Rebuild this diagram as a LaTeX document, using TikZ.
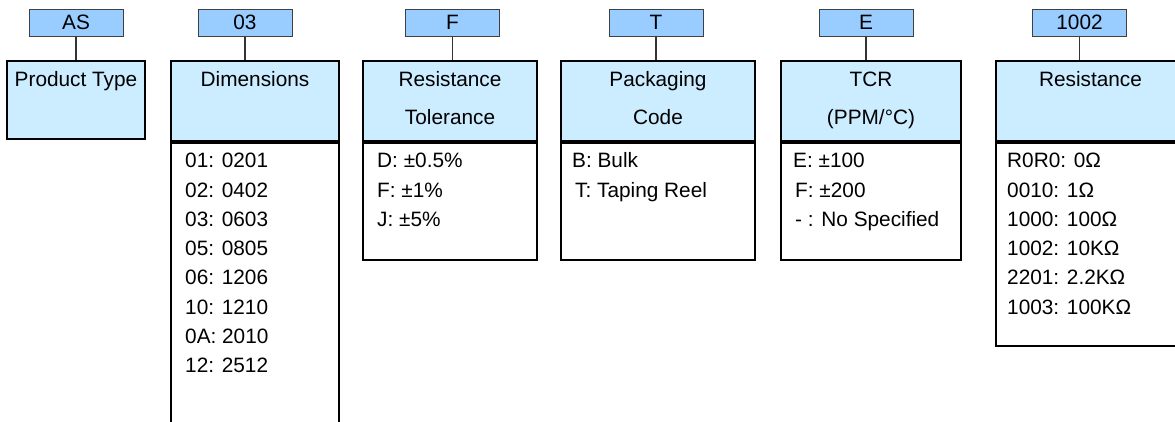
\documentclass[tikz,border=0pt]{standalone}
\usepackage{fontspec}
\setmainfont{Liberation Sans}
\usepackage{xcolor}
\usetikzlibrary{positioning}

\definecolor{codeblue}{RGB}{153,204,255}
\definecolor{headblue}{RGB}{204,236,255}

\tikzset{
  codebox/.style={draw=black!75, line width=1pt, fill=codeblue, minimum width=94pt, minimum height=27pt, inner sep=0pt, font=\fontsize{20.8}{24}\selectfont},
  headbox/.style={draw=black, line width=2pt, fill=headblue, minimum height=80pt, anchor=north, inner sep=0pt},
  listbox/.style={draw=black, line width=2pt, fill=white, anchor=north, inner sep=0pt},
  headtext/.style={anchor=north, inner sep=0pt, align=center, font=\fontsize{20.8}{38}\selectfont},
  listtext/.style={anchor=north west, inner sep=0pt, align=left, font=\fontsize{20.8}{29.3}\selectfont},
  link/.style={draw=black!80, line width=1.3pt}
}
\newcommand{\tstrut}{\rule{0pt}{17pt}}

\begin{document}
\begin{tikzpicture}[x=1pt,y=-1pt]
                    \useasboundingbox (0,0) rectangle (1175,421);

                    % code letters on top
                    \node[codebox] (cAS) at (76,22.5) {AS};
                    \node[codebox] (c03) at (245,22.5) {03};
                    \node[codebox] (cF) at (452.5,22.5) {F};
                    \node[codebox] (cT) at (656,22.5) {T};
                    \node[codebox] (cE) at (866,22.5) {E};
                    \node[codebox] (c1002) at (1079.5,22.5) {1002};

                    % header boxes
                    \node[headbox, minimum width=138pt, minimum height=78pt] (hPT) at (76,60) {};
                    \node[headbox, minimum width=168pt] (hDim) at (255,60) {};
                    \node[headbox, minimum width=174pt] (hTol) at (450,60) {};
                    \node[headbox, minimum width=194pt] (hPack) at (658,60) {};
                    \node[headbox, minimum width=180pt] (hTCR) at (871,60) {};
                    \node[headbox, minimum width=189pt] (hRes) at (1090.5,60) {};

                    % value boxes
                    \node[listbox, minimum width=168pt, minimum height=290pt] (lDim) at (hDim.south) {};
                    \node[listbox, minimum width=174pt, minimum height=117pt] (lTol) at (hTol.south) {};
                    \node[listbox, minimum width=194pt, minimum height=117pt] (lPack) at (hPack.south) {};
                    \node[listbox, minimum width=180pt, minimum height=117pt] (lTCR) at (hTCR.south) {};
                    \node[listbox, minimum width=189pt, minimum height=203pt] (lRes) at (hRes.south) {};

                    \foreach \c/\h in {cAS/hPT,c03/hDim,cF/hTol,cT/hPack,cE/hTCR,c1002/hRes}
                        \draw[link] (\c.south) -- (\c.south |- \h.north);

                    % titles
                    \node[headtext] (tPT) at ([yshift=-9.5]hPT.north) {\tstrut Product Type};
                    \node[headtext] (tDim) at ([yshift=-9.5]hDim.north) {\tstrut Dimensions};
                    \node[headtext] (tTol) at ([yshift=-9.5]hTol.north) {\tstrut Resistance\\Tolerance};
                    \node[headtext] (tPack) at ([yshift=-9.5]hPack.north) {\tstrut Packaging\\Code};
                    \node[headtext] (tTCR) at ([yshift=-9.5]hTCR.north) {\tstrut TCR\\(PPM/°C)};
                    \node[headtext] (tRes) at ([yshift=-9.5]hRes.north) {\tstrut Resistance};

                    % values
                    \node[listtext] (vDim) at ([xshift=15,yshift=-8.5]lDim.north west)
                        {\tstrut 01: 0201\\02: 0402\\03: 0603\\05: 0805\\06: 1206\\10: 1210\\0A: 2010\\12: 2512};
                    \node[listtext] (vTol) at ([xshift=15,yshift=-8.5]lTol.north west)
                        {\tstrut D: ±0.5\%\\F: ±1\%\\J: ±5\%};
                    \node[listtext] (vPack) at ([xshift=12,yshift=-8.5]lPack.north west)
                        {\tstrut B: Bulk\\\hspace*{3pt}T: Taping Reel};
                    \node[listtext] (vTCR) at ([xshift=13,yshift=-8.5]lTCR.north west)
                        {\tstrut E: ±100\\\hspace*{2pt}F: ±200\\\hspace*{2pt}- : No Specified};
                    \node[listtext] (vRes) at ([xshift=12,yshift=-8.5]lRes.north west)
                        {\tstrut R0R0: 0Ω\\0010: 1Ω\\1000: 100Ω\\1002: 10KΩ\\2201: 2.2KΩ\\1003: 100KΩ};
\end{tikzpicture}
\end{document}
